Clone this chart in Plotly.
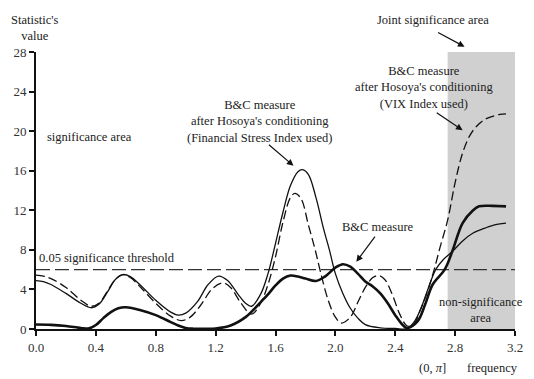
import plotly.graph_objects as go

# ---- data ----
freq_thick = [0.0, 0.1, 0.2, 0.3, 0.35, 0.4, 0.45, 0.5, 0.55, 0.6, 0.7, 0.8, 0.9, 0.95, 1.0, 1.05, 1.1, 1.2,
              1.3, 1.4, 1.45, 1.5, 1.55, 1.6, 1.65, 1.7, 1.75, 1.8, 1.87, 1.93, 2.0, 2.05, 2.1, 2.15, 2.2,
              2.25, 2.3, 2.35, 2.4, 2.45, 2.48, 2.55, 2.6, 2.65, 2.73, 2.78, 2.85, 2.92, 2.96, 3.05, 3.14]
bc_measure = [0.45, 0.42, 0.3, 0.1, 0.05, 0.4, 1.1, 1.7, 2.1, 2.2, 1.9, 1.4, 0.7, 0.35, 0.1, 0.03, 0.03, 0.05,
              0.35, 1.2, 1.9, 2.7, 3.5, 4.4, 5.1, 5.4, 5.3, 5.1, 4.85, 5.3, 6.2, 6.55, 6.3, 5.6, 4.8,
              4.3, 3.6, 2.6, 1.4, 0.4, 0.1, 0.8, 2.5, 4.5, 6.0, 7.8, 10.7, 12.0, 12.4, 12.45, 12.4]

freq_fsi = [0.0, 0.05, 0.1, 0.2, 0.3, 0.37, 0.42, 0.48, 0.53, 0.58, 0.63, 0.7, 0.8, 0.9, 0.95, 1.0, 1.08, 1.15,
            1.22, 1.28, 1.35, 1.4, 1.44, 1.5, 1.55, 1.59, 1.65, 1.7, 1.75, 1.78, 1.82, 1.87, 1.92, 1.96,
            2.0, 2.05, 2.1, 2.15, 2.2, 2.3, 2.4, 2.48, 2.53, 2.58, 2.62, 2.67, 2.72, 2.78, 2.85, 2.92,
            3.0, 3.07, 3.14]
bc_fsi = [4.9, 4.8, 4.5, 3.6, 2.6, 2.15, 2.5, 3.8, 5.0, 5.5, 5.3, 4.4, 2.9, 1.7, 1.4, 1.6, 2.8, 4.5,
          5.35, 4.9, 3.5, 2.6, 2.3, 3.5, 5.6, 8.0, 11.8, 14.5, 15.9, 16.1, 15.6, 13.3, 10.2, 8.0,
          5.6, 3.6, 2.1, 1.1, 0.45, 0.12, 0.05, 0.05, 0.8, 2.4, 4.1, 6.0, 7.0, 7.8, 8.9, 9.7,
          10.2, 10.55, 10.7]

freq_vix = [0.0, 0.05, 0.1, 0.2, 0.3, 0.37, 0.42, 0.48, 0.53, 0.58, 0.63, 0.7, 0.8, 0.9, 0.97, 1.03, 1.1, 1.18,
            1.25, 1.3, 1.37, 1.44, 1.5, 1.55, 1.6, 1.65, 1.7, 1.73, 1.77, 1.82, 1.865, 1.9, 1.95, 2.0,
            2.04, 2.1, 2.15, 2.2, 2.25, 2.29, 2.33, 2.38, 2.43, 2.48, 2.52, 2.57, 2.62, 2.66, 2.7, 2.75,
            2.8, 2.85, 2.9, 2.95, 3.0, 3.05, 3.1, 3.14]
bc_vix = [5.45, 5.35, 5.1, 4.2, 2.9, 2.3, 2.6, 3.9, 5.0, 5.5, 5.2, 4.2, 2.6, 1.3, 0.85, 1.2, 2.4, 4.1,
          4.65, 4.2, 2.6, 1.5, 2.6, 4.5, 7.3, 10.8, 13.3, 13.7, 13.2, 10.5, 8.0, 5.8, 3.0, 1.2,
          0.6, 1.2, 2.7, 4.2, 5.2, 5.4, 5.0, 3.5, 1.5, 0.3, 0.4, 2.0, 4.0, 6.0, 8.3, 11.0,
          14.8, 17.8, 19.6, 20.6, 21.2, 21.5, 21.7, 21.75]

threshold = 6.0
joint_area = [2.75, 3.2]
x_ticks = [0.0, 0.4, 0.8, 1.2, 1.6, 2.0, 2.4, 2.8, 3.2]
y_ticks = [0, 4, 8, 12, 16, 20, 24, 28]

FONT = "Liberation Serif"
TXT = "#222222"

fig = go.Figure()

fig.add_shape(type="rect", xref="x", yref="y", x0=joint_area[0], x1=joint_area[1], y0=0, y1=28,
              fillcolor="#d0d0d0", line_width=0, layer="below")

fig.add_trace(go.Scatter(x=[0, 3.2], y=[threshold, threshold], mode="lines",
                         line=dict(color="#333333", width=1.3, dash="14px,5px")))
fig.add_trace(go.Scatter(x=freq_fsi, y=bc_fsi, mode="lines",
                         line=dict(color="#111111", width=1.3, shape="spline", smoothing=1.0)))
fig.add_trace(go.Scatter(x=freq_vix, y=bc_vix, mode="lines",
                         line=dict(color="#111111", width=1.3, dash="9px,4px", shape="spline", smoothing=1.0)))
fig.add_trace(go.Scatter(x=freq_thick, y=bc_measure, mode="lines",
                         line=dict(color="#111111", width=2.6, shape="spline", smoothing=1.0)))

def txt(x, y, s, xanchor="center", size=12.5, ref="x"):
    fig.add_annotation(x=x, y=y, xref=ref, yref=("y" if ref == "x" else "paper"), text=s, showarrow=False,
                       xanchor=xanchor, yanchor="middle", font=dict(family=FONT, size=size, color=TXT),
                       align="center", borderpad=0)

def arrow(x, y, ax, ay):
    fig.add_annotation(x=x, y=y, ax=ax, ay=ay, xref="x", yref="y", axref="x", ayref="y", text="",
                       showarrow=True, arrowhead=2, arrowsize=1.1, arrowwidth=1.2, arrowcolor="#111111")

txt(0.01, 7.2, "0.05 significance threshold", xanchor="left")
txt(0.07, 19.4, "significance area", xanchor="left")
txt(1.49, 21.0, "B&amp;C measure<br>after Hosoya's conditioning<br>(Financial Stress Index used)")
arrow(1.72, 16.5, 1.546, 18.76)
txt(2.287, 10.3, "B&amp;C measure")
arrow(2.14, 6.8, 2.272, 9.5)
txt(2.59, 24.4, "B&amp;C measure<br>after Hosoya's conditioning<br>(VIX Index used)")
arrow(2.85, 20.1, 2.667, 21.95)
txt(2.97, 1.92, "non-significance<br>area")

# texts outside the plotting area (paper coordinates)
txt(-0.002, 1.0856, "Statistic's<br>value", ref="paper")
txt(0.829, 1.1155, "Joint significance area", ref="paper")
fig.add_annotation(x=0.8947, y=1.0191, xref="paper", yref="paper", ax=-28, ay=-15, text="",
                   showarrow=True, arrowhead=2, arrowsize=1.1, arrowwidth=1.2, arrowcolor="#111111")
txt(0.827, -0.1408, "(0, <i>π</i>]", ref="paper")
txt(0.953, -0.1408, "frequency", ref="paper")

fig.update_layout(
    width=534, height=379, margin=dict(l=36, r=11, t=52, b=50, pad=0),
    plot_bgcolor="white", paper_bgcolor="white", showlegend=False,
    font=dict(family=FONT, size=13, color=TXT),
)
fig.update_xaxes(range=[0, 3.2], tickvals=x_ticks, tickformat=".1f", showgrid=False, zeroline=False,
                 showline=True, linecolor="#111111", linewidth=2, ticks="outside", ticklen=5,
                 tickwidth=1.5, tickcolor="#111111", tickfont=dict(family=FONT, size=13, color="#333333"))
fig.update_yaxes(range=[0, 28], tickvals=y_ticks, showgrid=False, zeroline=False,
                 showline=True, linecolor="#111111", linewidth=2, ticks="outside", ticklen=5,
                 tickwidth=1.5, tickcolor="#111111", tickfont=dict(family=FONT, size=13, color="#333333"))

fig.write_html("out.html")
